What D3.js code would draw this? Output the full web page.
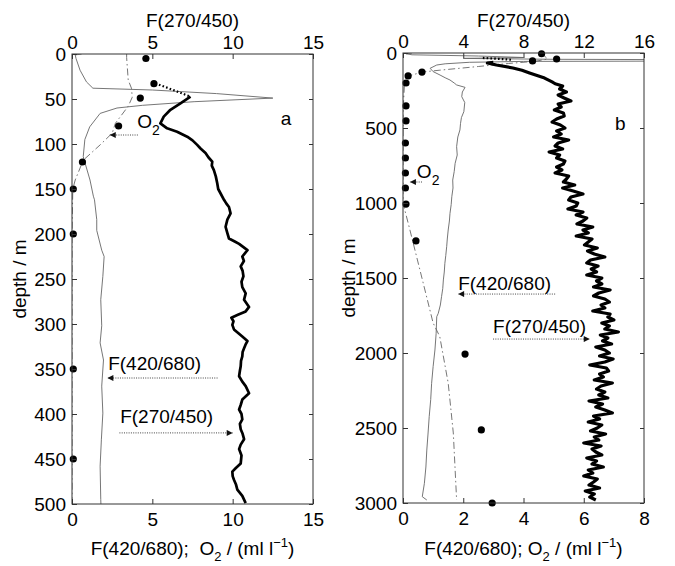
<!DOCTYPE html>
<html><head><meta charset="utf-8">
<script src="https://cdn.jsdelivr.net/npm/d3@7"></script>
<style>
body{margin:0;background:#fff}
text{font-family:"Liberation Sans",Arial,Helvetica,sans-serif;fill:#000}
</style>
</head><body>
<svg id="c" width="675" height="566"></svg>
<script>
// ---------- tick labels ----------
const aDepthTicks = [0,50,100,150,200,250,300,350,400,450,500];
const aBottomTicks = [0,5,10,15];
const aTopTicks = [0,5,10,15];
const bDepthTicks = [0,500,1000,1500,2000,2500,3000];
const bBottomTicks = [0,2,4,6,8];
const bTopTicks = [0,4,8,12,16];

// ---------- panel a ----------
// O2 bottle samples (ml/l)
const aO2PtDepth = [5,33,49,80,120,150,200,350,450];
const aO2PtVal   = [4.6,5.1,4.25,2.9,0.65,0.08,0.08,0.08,0.08];
// O2 profile (dash-dot)
const aO2LineDepth = [0,4,29,38,48,58,77,88,101,118,140,150,200,500];
const aO2LineVal   = [3.4,3.4,3.5,3.7,3.75,3.5,2.7,2.5,1.75,0.7,0.2,0.05,0,0];
// F(420/680) thin line
const aF420Depth = [0,1,5,18,31,38,40,44,49,53,57,60,66,81,95,114,121,140,158,162,184,196,218,225,247,273,302,321,340,369,399,428,458,495,500];
const aF420Val   = [0.6,0.2,0.25,0.5,0.9,1.3,5,9,12.5,7.6,4.4,2.8,1.75,1.1,0.8,0.7,0.81,1.12,1.33,1.4,1.54,1.54,1.85,2.0,1.92,1.79,1.85,1.75,1.96,1.85,1.92,1.83,1.75,1.79,1.8];
// F(270/450) thick line (top axis)
const aF270TopDepth = [32.6,40,47.4];
const aF270TopVal   = [5.19,6.3,7.375];
const aF270Depth = [47.4,54.8,62,69.6,77,82.6,86.3,91.9,96,101,105,110,115,119.6,124,129,136,143.7,150,155,162,166,170,177,184,192,199,205,208,211,218,225,230,236,241,247,253,259,266,273,281,286,290,293,297,301,306,314,319,323,327,331,336,341,347,352,358,364,369,377,384,390,395,400,406,411,417,422,428,434,439,446,455,460,464,469,473,478,484,491,499];
const aF270Val   = [7.375,6.75,6.125,5.71,5.5,5.92,6.54,7.17,7.5,7.79,8.0,8.31,8.5,8.73,8.7,8.83,8.95,9.04,9.1,9.25,9.46,9.6,9.77,9.87,9.67,9.56,9.67,9.77,10.1,10.4,10.92,10.6,10.7,10.5,10.62,10.67,10.55,10.6,10.81,10.71,11.02,10.81,10.29,9.92,10.05,9.98,10.08,10.6,10.92,10.8,10.71,10.62,10.6,10.52,10.5,10.45,10.4,10.6,10.81,11.02,10.6,10.5,10.4,10.55,10.6,10.45,10.5,10.62,10.71,10.5,10.4,10.55,10.5,10.2,9.98,10.0,10.08,10.2,10.29,10.6,10.81];

// ---------- panel b ----------
const bO2PtDepth = [5,40,53,127,153,200,353,453,600,700,800,900,1007,1253,2007,2513,3000];
const bO2PtVal   = [4.6,5.1,4.3,0.63,0.17,0.1,0.1,0.1,0.08,0.08,0.08,0.08,0.1,0.43,2.06,2.6,2.96];
const bO2LineDepth = [0,20,40,55,70,90,115,127,153,200,400,1000,1180,1533,1800,1890,2200,2533,2980];
const bO2LineVal   = [4.6,4.7,4.8,4.4,3.5,2.5,1.2,0.63,0.2,0.05,0,0,0.23,0.67,1.0,1.22,1.5,1.67,1.78];
const bF420Depth = [0,5,12,20,30,36,42,47,52,56,62,72,80,102,124,147,165,180,200,213,229,260,291,330,391,430,469,513,560,624,680,736,790,847,900,958,1010,1069,1120,1180,1240,1291,1350,1402,1460,1513,1570,1624,1680,1736,1758,1870,1980,2090,2202,2310,2424,2540,2647,2760,2869,2958,2980];
const bF420Val   = [0.3,0.1,0.3,2.5,4.0,2.0,5,14,14,4,2.2,1.4,1.12,0.9,1.0,1.23,1.4,1.56,1.7,1.78,2.06,1.97,1.95,2.05,2.02,1.94,1.91,1.89,1.82,1.78,1.8,1.73,1.7,1.65,1.66,1.62,1.6,1.56,1.54,1.5,1.47,1.45,1.42,1.39,1.37,1.34,1.32,1.28,1.24,1.17,1.12,1.1,1.06,1.0,0.95,0.92,0.87,0.83,0.79,0.76,0.71,0.64,0.79];
const bF270TopDepth = [33,40,46];
const bF270TopVal   = [5.3,6.5,7.3];
const bF270Depth = [62,67,80,100,115,133,150,167,193,205,
  220,240,260,280,300,320,340,360,380,400,
  420,440,460,480,500,520,540,560,580,600,
  620,640,660,680,700,720,740,760,780,800,
  820,840,860,880,900,920,940,960,980,1000,
  1020,1040,1060,1080,1100,1120,1140,1160,1180,1200,
  1220,1240,1260,1280,1300,1320,1340,1360,1380,1400,
  1420,1440,1460,1480,1500,1520,1540,1560,1580,1600,
  1620,1640,1660,1680,1700,1720,1740,1760,1780,1800,
  1820,1840,1860,1880,1900,1920,1940,1960,1980,2000,
  2020,2040,2060,2080,2100,2120,2140,2160,2180,2200,
  2220,2240,2260,2280,2300,2320,2340,2360,2380,2400,
  2420,2440,2460,2480,2500,2520,2540,2560,2580,2600,
  2620,2640,2660,2680,2700,2720,2740,2760,2780,2800,
  2820,2840,2860,2880,2900,2920,2940,2960,2980];
const bF270Val   = [6.0,5.6,6.2,7.3,7.9,8.4,8.9,9.4,9.9,10.1,
  10.6,10.4,10.85,10.3,10.7,11.15,10.3,10.5,10.05,10.65,
  10.7,10.2,9.9,10.45,10.75,10.2,10.5,10.0,11.0,10.3,
  10.1,10.6,9.7,10.4,10.2,10.75,10.65,10.2,10.55,10.1,
  11.0,10.85,10.65,11.4,10.6,11.3,11.95,11.15,11.0,11.6,
  11.5,10.95,11.95,11.5,12.2,11.95,11.55,12.6,11.95,12.3,
  11.5,12.55,12.3,12.05,12.9,12.25,12.7,13.4,12.45,12.2,
  12.95,12.5,12.85,12.2,13.2,12.85,13.2,12.65,13.75,13.0,
  12.65,13.4,13.7,13.15,13.4,12.6,13.75,13.6,14.0,13.2,
  13.7,13.4,14.3,13.1,13.6,13.25,13.85,12.8,13.4,13.7,
  13.05,13.95,13.4,12.4,13.5,13.65,13.05,13.3,12.7,13.9,
  13.15,12.85,13.4,13.0,13.6,12.35,13.25,12.8,13.4,13.9,
  12.65,13.05,12.3,13.2,12.9,12.45,13.45,12.7,13.0,12.0,
  13.15,12.55,12.8,13.2,12.2,12.85,12.55,13.3,12.3,12.6,
  12.0,12.9,12.65,12.35,13.05,12.1,12.7,12.4,12.8];

// ---------- drawing ----------
const svg = d3.select("#c");
const defs = svg.append("defs");
defs.append("marker").attr("id","ah").attr("viewBox","0 0 10 10")
  .attr("refX",10).attr("refY",5).attr("markerWidth",7).attr("markerHeight",6)
  .attr("markerUnits","userSpaceOnUse").attr("orient","auto")
  .append("path").attr("d","M0,0L10,5L0,10Z").attr("fill","#111");

const zip = (v,d) => v.map((x,i)=>[x,d[i]]);

function panel(p){
  const x  = d3.scaleLinear().domain(p.xDom).range([p.x0,p.x1]);
  const xt = d3.scaleLinear().domain(p.xtDom).range([p.x0,p.x1]);
  const y  = d3.scaleLinear().domain(p.yDom).range([p.y0,p.y1]);
  const g = svg.append("g");
  defs.append("clipPath").attr("id","clip"+p.id).append("rect")
    .attr("x",p.x0).attr("y",p.y0).attr("width",p.x1-p.x0).attr("height",p.y1-p.y0);
  const plot = g.append("g").attr("clip-path","url(#clip"+p.id+")");

  const lineB = d3.line().x(d=>x(d[0])).y(d=>y(d[1]));
  const lineT = d3.line().x(d=>xt(d[0])).y(d=>y(d[1]));

  plot.append("path").attr("d",lineB(zip(p.f420v,p.f420d)))
    .attr("fill","none").attr("stroke","#666").attr("stroke-width",0.9);
  plot.append("path").attr("d",lineB(zip(p.o2v,p.o2d)))
    .attr("fill","none").attr("stroke","#666").attr("stroke-width",0.9)
    .attr("stroke-dasharray","7,3,1.5,3");
  plot.append("path").attr("d",lineT(zip(p.f270tv,p.f270td)))
    .attr("fill","none").attr("stroke","#000").attr("stroke-width",2.2)
    .attr("stroke-dasharray","1.6,2.2");
  plot.append("path").attr("d",lineT(zip(p.f270v,p.f270d)))
    .attr("fill","none").attr("stroke","#000").attr("stroke-width",p.thick)
    .attr("stroke-linejoin","round");
  g.selectAll(null).data(zip(p.ptv,p.ptd)).join("circle")
    .attr("cx",d=>x(d[0])).attr("cy",d=>y(d[1])).attr("r",3.6).attr("fill","#000");

  // box
  g.append("rect").attr("x",p.x0).attr("y",p.y0).attr("width",p.x1-p.x0).attr("height",p.y1-p.y0)
    .attr("fill","none").attr("stroke","#333").attr("stroke-width",1);

  const fs = 19;
  const fmt = d3.format("d");
  const styleAxis = a => { a.select(".domain").remove(); a.attr("font-size",fs).attr("font-family",null);
    a.selectAll("line").attr("stroke","#333"); a.selectAll("text").attr("fill","#000"); };
  g.append("g").attr("transform",`translate(${p.x0},0)`)
    .call(d3.axisLeft(y).tickValues(p.yTicks).tickFormat(fmt).tickSize(-5).tickPadding(6)).call(styleAxis);
  g.append("g").attr("transform",`translate(${p.x1},0)`)
    .call(d3.axisRight(y).tickValues(p.yTicks).tickSize(-4).tickFormat("")).call(styleAxis);
  g.append("g").attr("transform",`translate(0,${p.y1})`)
    .call(d3.axisBottom(x).tickValues(p.xTicks).tickFormat(fmt).tickSize(-5).tickPadding(9)).call(styleAxis);
  g.append("g").attr("transform",`translate(0,${p.y0})`)
    .call(d3.axisTop(xt).tickValues(p.xtTicks).tickFormat(fmt).tickSize(-5).tickPadding(5)).call(styleAxis);

  const cx = (p.x0+p.x1)/2;
  g.append("text").attr("x",cx).attr("y",27).attr("text-anchor","middle").attr("font-size",fs).text("F(270/450)");
  g.append("text").attr("transform",`translate(${p.ylabX},${(p.y0+p.y1)/2}) rotate(-90)`)
    .attr("text-anchor","middle").attr("font-size",fs).text("depth / m");
  const xl = g.append("text").attr("x",cx).attr("y",555).attr("text-anchor","middle")
    .attr("font-size",fs).style("white-space","pre");
  xl.append("tspan").text(p.xlabPre);
  xl.append("tspan").attr("font-size",13).attr("dy",6).text("2");
  xl.append("tspan").attr("dy",-6).text(" / (ml l");
  xl.append("tspan").attr("font-size",13).attr("dy",-8).text("\u22121");
  xl.append("tspan").attr("dy",8).text(")");

  // annotations (data units)
  const o2 = g.append("text").attr("x",x(p.o2lab[0])).attr("y",y(p.o2lab[1])).attr("font-size",fs);
  o2.append("tspan").text("O");
  o2.append("tspan").attr("font-size",14).attr("dy",7).text("2");
  const arrow = (a) => g.append("line").attr("x1",x(a[0])).attr("x2",x(a[1])).attr("y1",y(a[2])).attr("y2",y(a[2]))
      .attr("stroke","#444").attr("stroke-width",1).attr("stroke-dasharray","1,1.3").attr("marker-end","url(#ah)");
  arrow(p.o2arr);
  g.append("text").attr("x",x(p.letter[0])).attr("y",y(p.letter[1])).attr("font-size",fs).text(p.id);
  g.append("text").attr("x",x(p.l420[0])).attr("y",y(p.l420[1])).attr("font-size",fs).text("F(420/680)");
  arrow(p.a420);
  g.append("text").attr("x",x(p.l270[0])).attr("y",y(p.l270[1])).attr("font-size",fs).text("F(270/450)");
  arrow(p.a270);
}

panel({id:"a", x0:72, x1:313, y0:54, y1:504, xDom:[0,15], xtDom:[0,15], yDom:[0,500],
  yTicks:aDepthTicks, xTicks:aBottomTicks, xtTicks:aTopTicks, ylabX:26,
  f420v:aF420Val, f420d:aF420Depth, o2v:aO2LineVal, o2d:aO2LineDepth,
  f270tv:aF270TopVal, f270td:aF270TopDepth, f270v:aF270Val, f270d:aF270Depth, thick:2.7,
  ptv:aO2PtVal, ptd:aO2PtDepth, xlabPre:"F(420/680);  O",
  o2lab:[4.06,82], o2arr:[4.1,2.35,90], letter:[13.0,79],
  l420:[2.25,351], a420:[9.06,2.2,360], l270:[3.0,410], a270:[2.95,10.0,421]});

panel({id:"b", x0:403, x1:644, y0:53, y1:503, xDom:[0,8], xtDom:[0,16], yDom:[0,3000],
  yTicks:bDepthTicks, xTicks:bBottomTicks, xtTicks:bTopTicks, ylabX:355,
  f420v:bF420Val, f420d:bF420Depth, o2v:bO2LineVal, o2d:bO2LineDepth,
  f270tv:bF270TopVal, f270td:bF270TopDepth, f270v:bF270Val, f270d:bF270Depth, thick:3.2,
  ptv:bO2PtVal, ptd:bO2PtDepth, xlabPre:"F(420/680); O",
  o2lab:[0.46,833], o2arr:[0.63,0.23,860], letter:[7.04,513],
  l420:[1.83,1580], a420:[5.05,1.83,1607], l270:[2.99,1867], a270:[2.99,6.2,1907]});
</script>
</body></html>
